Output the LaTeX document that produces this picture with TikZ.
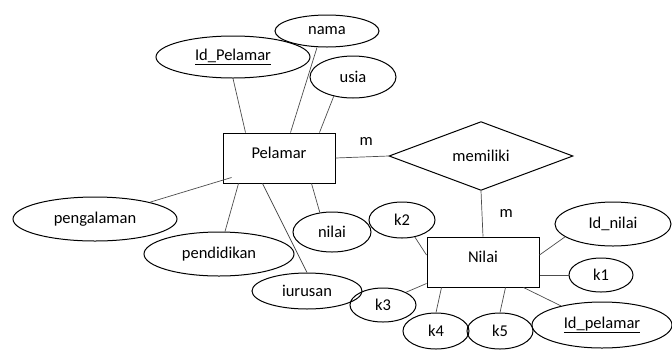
\documentclass[tikz,border=0pt]{standalone}
\usepackage{fontspec}
\setmainfont{Carlito}
\usetikzlibrary{shapes.geometric}

\begin{document}
\begin{tikzpicture}[x=1pt,y=-1pt,
    entity/.style={rectangle,draw,line width=1pt,minimum width=112pt,minimum height=50pt,text height=9pt,text depth=9pt},
    attr/.style 2 args={ellipse,draw,line width=1pt,inner sep=0pt,minimum width=#1,minimum height=#2},
    rel/.style={diamond,draw,line width=1pt,inner sep=0pt,minimum width=184pt,minimum height=64pt}]
    \useasboundingbox (0,0) rectangle (672,349);
    \begin{scope}[every node/.style={font=\fontsize{16.5}{19}\selectfont}]
    \node[entity] (pelamar) at (279,158) {Pelamar};
    \node[entity] (nilai) at (483,262) {Nilai};
    \node[rel] (memiliki) at (481,156) {memiliki};
    \node[attr={154pt}{42pt}] (idpelamar) at (233,57) {\underline{Id\_Pelamar}};
    \node[attr={104pt}{32pt}] (nama) at (327,31) {nama};
    \node[attr={86pt}{42pt}] (usia) at (353,77) {usia};
    \node[attr={164pt}{44pt}] (pengalaman) at (95,219) {pengalaman};
    \node[attr={150pt}{44pt}] (pendidikan) at (219,254) {pendidikan};
    \node[attr={78pt}{40pt}] (nilaiattr) at (332,232) {nilai};
    \node[attr={110pt}{36pt}] (iurusan) at (307,291) {iurusan};
    \node[attr={116pt}{44pt}] (idnilai) at (613,224) {Id\_nilai};
    \node[attr={64pt}{34pt}] (k1) at (601,275) {k1};
    \node[attr={66pt}{36pt}] (k2) at (402,220) {k2};
    \node[attr={66pt}{34pt}] (k3) at (383,305) {k3};
    \node[attr={66pt}{36pt}] (k4) at (436,331) {k4};
    \node[attr={66pt}{36pt}] (k5) at (500,331) {k5};
    \node[attr={140pt}{46pt}] (nidpelamar) at (602,325) {\underline{Id\_pelamar}};
    \end{scope}
    \begin{scope}[every edge/.style={draw=black!70,line width=0.7pt},every node/.style={font=\fontsize{16.5}{19}\selectfont}]
    \path (pelamar.east) edge node[pos=0.58,above=8pt] {m} (memiliki.west);
    \path (memiliki.south) edge node[right=14pt] {m} (nilai.north);
    \path (idpelamar.south) edge ([xshift=23pt]pelamar.north west);
    \path ([xshift=-10pt]nama.south) edge ([xshift=68pt]pelamar.north west);
    \path (usia.225) edge ([xshift=97pt]pelamar.north west);
    \path (pengalaman.17) edge ([xshift=9pt,yshift=6pt]pelamar.south west);
    \path ([xshift=6pt]pendidikan.north) edge ([xshift=16pt]pelamar.south west);
    \path (nilaiattr.122) edge ([xshift=89pt]pelamar.south west);
    \path (iurusan.north) edge ([xshift=40pt]pelamar.south west);
    \path (idnilai.195) edge ([yshift=7pt]nilai.east);
    \path (k1.west) edge (k1.west -| nilai.east);
    \path (k2.307) edge ([yshift=7pt]nilai.west);
    \path (k3.29) edge ([yshift=4pt]nilai.south west);
    \path (k4.north) edge ([xshift=15pt]nilai.south west);
    \path (k5.north) edge ([xshift=79pt]nilai.south west);
    \path (nidpelamar.155) edge ([xshift=-16pt]nilai.south east);
    \end{scope}
\end{tikzpicture}
\end{document}
